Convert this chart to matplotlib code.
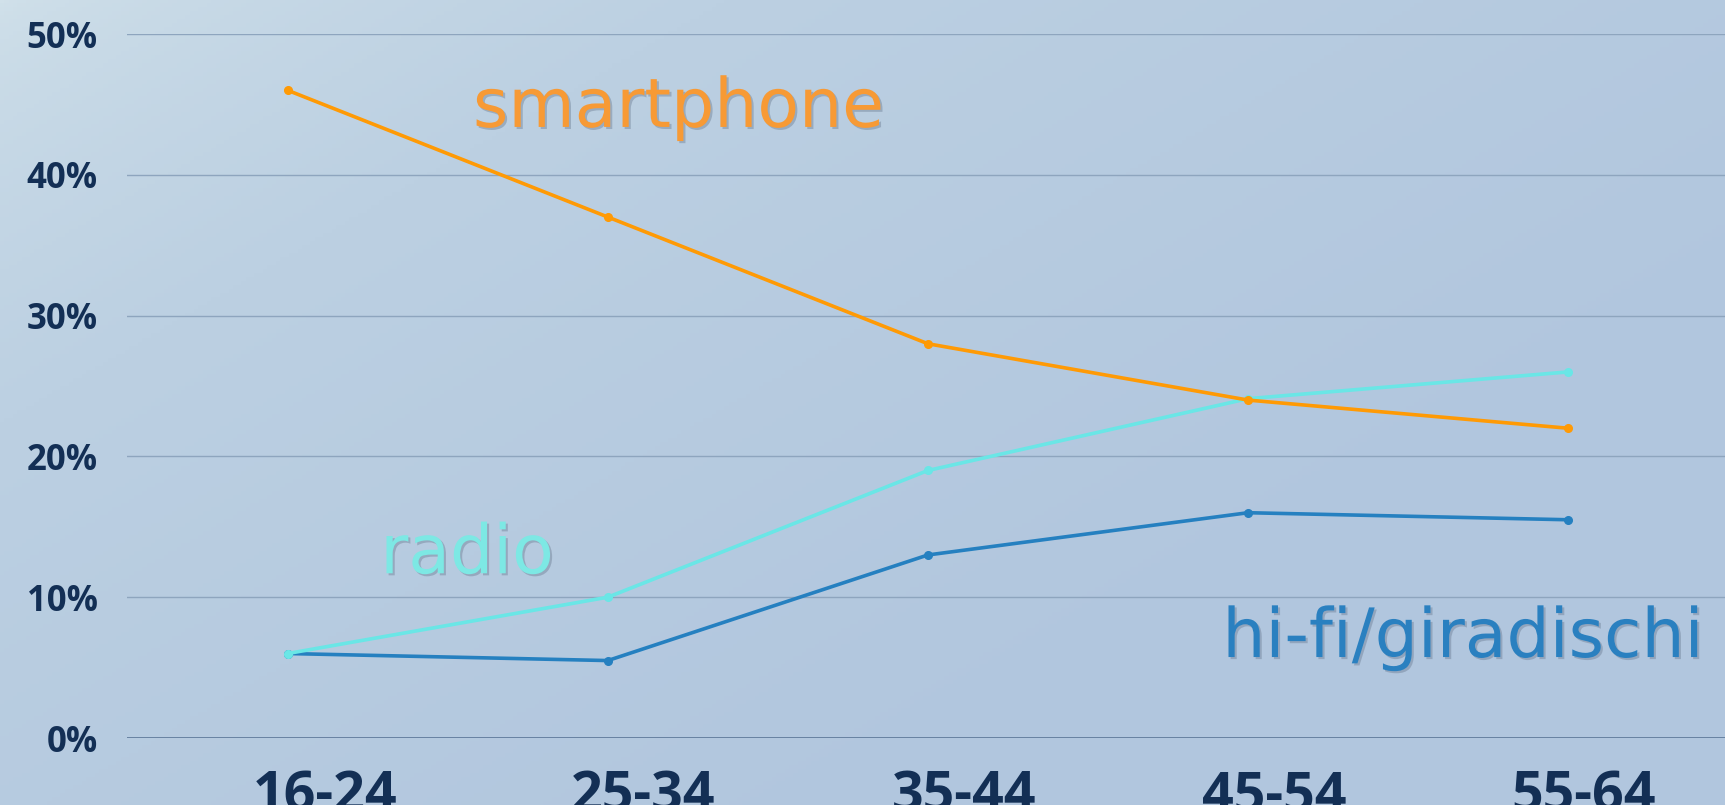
import matplotlib
matplotlib.use("Agg")
import matplotlib.pyplot as plt
import matplotlib.patheffects as pe
import numpy as np
from matplotlib.colors import LinearSegmentedColormap

categories = ["16-24", "25-34", "35-44", "45-54", "55-64"]
smartphone = [46.0, 37.0, 28.0, 24.0, 22.0]
radio = [6.0, 10.0, 19.0, 24.1, 26.0]
hifi = [6.0, 5.5, 13.0, 16.0, 15.5]
yticks = [0, 10, 20, 30, 40, 50]
ytick_labels = ["0%", "10%", "20%", "30%", "40%", "50%"]

W, H = 1725, 805
fig = plt.figure(figsize=(W / 100, H / 100), dpi=100)

# background gradient
bg = fig.add_axes([0, 0, 1, 1], zorder=-10)
yy, xx = np.mgrid[0:1:200j, 0:1:400j]
t = np.clip(0.75 * xx + 0.6 * yy, 0, 1) ** 0.6
cmap = LinearSegmentedColormap.from_list("bg", ["#d1e1ea", "#bcd0e2", "#b1c6de"])
bg.imshow(t, cmap=cmap, aspect="auto", extent=[0, 1, 0, 1], origin="upper")
bg.axis("off")

ax = fig.add_axes([127 / W, 67 / H, 1 - 127 / W, (738 - 34) / H])
ax.patch.set_alpha(0)
x = np.arange(len(categories))
ax.set_xlim(-0.502, 4.49)
ax.set_ylim(0, 50)

for y in yticks:
    ax.axhline(y, color="#5b7697" if y == 0 else "#8ea5be", lw=1.2 if y == 0 else 1.0, zorder=1)

lw = 2.6
ax.plot(x, hifi, color="#2580c0", lw=lw, marker="o", ms=5.5, zorder=3, clip_on=False)
ax.plot(x, radio, color="#6ae6e6", lw=lw, marker="o", ms=5.5, zorder=4, clip_on=False)
ax.plot(x, smartphone, color="#ff9a05", lw=lw, marker="o", ms=5.5, zorder=5, clip_on=False)

for s in ax.spines.values():
    s.set_visible(False)
ax.set_yticks(yticks)
ax.set_yticklabels(ytick_labels)
ax.tick_params(axis="y", length=0, pad=21, labelsize=25, labelcolor="#132f55")
for lbl in ax.get_yticklabels():
    lbl.set_fontfamily("Open Sans")
    lbl.set_fontweight("bold")
ax.set_xticks([])

# x category labels (slightly right of the data points, as in the reference)
label_shift = [0.117, 0.110, 0.113, 0.082, 0.048]
for i, c in enumerate(categories):
    ax.text(i + label_shift[i], -0.045, c, transform=ax.get_xaxis_transform(), ha="center", va="top",
            fontsize=40, fontweight="bold", color="#132f55", family="Open Sans")

shadow = [pe.SimplePatchShadow(offset=(1.5, -1.5), shadow_rgbFace="#5a6a80", alpha=0.35), pe.Normal()]
ax.text(1.22, 43.4, "smartphone", color="#f79a35", fontsize=49, ha="center", va="baseline",
        family="DejaVu Sans", path_effects=shadow)
ax.text(0.56, 11.7, "radio", color="#7de8e4", fontsize=49, ha="center", va="baseline",
        family="DejaVu Sans", path_effects=shadow)
ax.text(3.67, 5.75, "hi-fi/giradischi", color="#2a80c0", fontsize=49, ha="center", va="baseline",
        family="DejaVu Sans", path_effects=shadow)

fig.savefig("out.png", dpi=100)
